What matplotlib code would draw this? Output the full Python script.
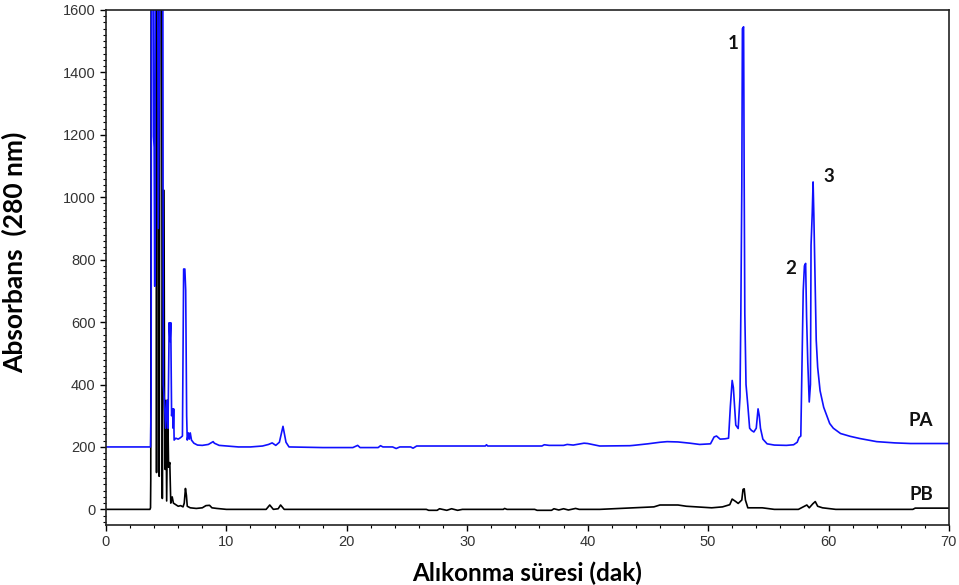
import numpy as np
import matplotlib.pyplot as plt
from matplotlib.ticker import MultipleLocator

# Retention time (min) and absorbance at 280 nm, PA trace (offset +200)
pa_time = [0.0, 3.70, 3.75, 3.78, 3.92, 3.95, 4.00, 4.05, 4.10, 4.30, 4.34, 4.50, 4.72,
           4.76, 4.85, 4.95, 5.05, 5.15, 5.25, 5.32, 5.38, 5.45, 5.52, 5.58, 5.62, 5.66,
           5.80, 6.00, 6.20, 6.35, 6.45, 6.55, 6.62, 6.70, 6.75, 6.85, 6.92, 7.00, 7.10,
           7.30, 7.60, 8.00, 8.50, 8.90, 9.00, 9.40, 10.0, 11.0, 12.0, 13.0, 13.5, 13.8,
           14.1, 14.4, 14.6, 14.7, 14.8, 14.95, 15.2, 18.0, 20.5, 20.9, 21.1, 22.6, 22.8,
           23.0, 23.8, 24.1, 24.4, 25.3, 25.5, 25.8, 30.0, 31.5, 31.6, 31.7, 36.2, 36.4,
           36.8, 38.0, 38.3, 38.8, 39.1, 39.7, 40.0, 41.0, 43.5, 43.8, 45.0, 46.0, 46.6,
           47.5, 48.5, 49.3, 50.2, 50.5, 50.7, 51.0, 51.4, 51.7, 51.85, 52.0, 52.1, 52.2,
           52.3, 52.5, 52.65, 52.72, 52.8, 52.85, 52.95, 53.0, 53.05, 53.15, 53.3, 53.45,
           53.6, 53.8, 54.0, 54.15, 54.25, 54.35, 54.55, 54.9, 55.5, 56.5, 57.1, 57.4,
           57.55, 57.7, 57.8, 57.9, 58.0, 58.1, 58.18, 58.28, 58.4, 58.5, 58.55, 58.65,
           58.72, 58.78, 58.88, 58.98, 59.1, 59.3, 59.6, 60.1, 60.4, 61.0, 61.8, 62.6,
           64.0, 65.5, 66.8, 70.0]
pa_abs = [200, 200, 350, 1800, 1800, 1195, 1160, 715, 1800, 1800, 900, 1800, 1800,
          400, 349, 260, 349, 260, 598, 538, 598, 300, 322, 260, 322, 222,
          228, 225, 230, 235, 770, 770, 702, 300, 222, 245, 225, 245, 222,
          212, 206, 205, 208, 217, 212, 205, 203, 200, 200, 203, 208, 213,
          205, 215, 250, 266, 245, 215, 200, 198, 198, 205, 198, 198, 204,
          200, 200, 195, 200, 200, 196, 203, 203, 203, 207, 203, 203, 207,
          205, 205, 208, 206, 208, 212, 211, 203, 204, 205, 210, 215, 217,
          216, 212, 208, 210, 232, 235, 225, 226, 228, 330, 413, 390, 330,
          270, 259, 360, 627, 1032, 1540, 1546, 1032, 627, 400, 333, 260,
          253, 248, 260, 322, 300, 260, 225, 210, 206, 205, 207, 215,
          230, 235, 461, 700, 780, 788, 616, 470, 344, 400, 846, 950,
          1049, 948, 744, 542, 455, 380, 327, 275, 260, 243, 234, 227,
          217, 213, 211, 211]

# PB trace
pb_time = [0.0, 3.65, 3.70, 3.72, 3.75, 4.15, 4.20, 4.26, 4.36, 4.42, 4.48, 4.62, 4.68,
           4.74, 4.82, 4.86, 4.92, 4.98, 5.04, 5.12, 5.20, 5.30, 5.38, 5.50, 5.60, 5.80,
           6.00, 6.20, 6.40, 6.50, 6.60, 6.68, 6.75, 7.00, 7.50, 8.00, 8.30, 8.60, 8.80,
           9.20, 10.0, 13.3, 13.6, 13.9, 14.3, 14.5, 14.8, 26.6, 26.8, 27.5, 27.7, 28.3,
           28.7, 29.2, 29.6, 33.0, 33.1, 33.3, 35.6, 35.8, 37.0, 37.2, 37.6, 38.0, 38.4,
           39.0, 39.3, 41.0, 43.8, 45.5, 46.0, 47.5, 48.2, 50.3, 51.2, 51.8, 52.0, 52.3,
           52.5, 52.8, 52.9, 53.0, 53.1, 53.3, 54.5, 55.5, 57.5, 58.0, 58.2, 58.4, 58.7,
           58.9, 59.1, 59.5, 60.6, 67.0, 67.2, 70.0]
pb_abs = [0, 0, 5, 95, 1800, 1800, 118, 1800, 1800, 106, 1800, 1800, 35,
          1022, 1022, 349, 128, 349, 27, 350, 135, 150, 20, 40, 20, 15,
          10, 12, 8, 20, 67, 45, 10, 5, 3, 5, 12, 13, 5,
          3, 0, 0, 14, 0, 2, 14, 0, 0, -3, -3, 2, -3,
          2, -3, 0, 0, 3, 0, 0, -3, -3, 2, -2, 2, -2,
          3, 0, 0, 5, 8, 14, 14, 10, 5, 8, 15, 33, 25,
          19, 30, 64, 66, 30, 5, 5, 0, 0, 10, 14, 5, 18,
          25, 10, 5, 0, 0, 4, 4]

peak_labels = ["1", "2", "3"]
peak_label_t = [52.1, 56.9, 60.05]
peak_label_y = [1494, 772, 1067]

trace_labels = ["PA", "PB"]
trace_label_t = [67.7, 67.7]
trace_label_y = [285, 48]

fig = plt.figure(figsize=(9.59, 5.85), dpi=100)
ax = fig.add_axes([0.1105, 0.1026, 0.879, 0.8804])

ax.plot(pb_time, pb_abs, color="black", lw=1.2)
ax.plot(pa_time, pa_abs, color="#1010ff", lw=1.2)

for lab, t, y in zip(peak_labels + trace_labels,
                     peak_label_t + trace_label_t,
                     peak_label_y + trace_label_y):
    ax.text(t, y, lab, fontsize=13.5, fontweight="bold", family="Lato",
            ha="center", va="center", color="#111111")

ax.set_xlim(0, 70)
ax.set_ylim(-50, 1600)
ax.xaxis.set_major_locator(MultipleLocator(10))
ax.xaxis.set_minor_locator(MultipleLocator(2))
ax.yaxis.set_major_locator(MultipleLocator(200))
ax.yaxis.set_minor_locator(MultipleLocator(20))
ax.tick_params(which="major", length=4, width=1, labelsize=10.5,
               labelcolor="#333333", direction="out")
ax.tick_params(which="minor", length=2, width=0.8, direction="out")
for lbl in ax.get_xticklabels() + ax.get_yticklabels():
    lbl.set_family("Liberation Sans")

for s in ax.spines.values():
    s.set_linewidth(1.2)
    s.set_color("#222222")

ax.set_xlabel("Alıkonma süresi (dak)", fontsize=17.5, fontweight="bold",
              family="Lato", labelpad=9)
ax.set_ylabel("Absorbans  (280 nm)", fontsize=19, fontweight="bold",
              family="Lato")
ax.yaxis.set_label_coords(-0.094, 0.53)

fig.savefig("out.png", dpi=100)
